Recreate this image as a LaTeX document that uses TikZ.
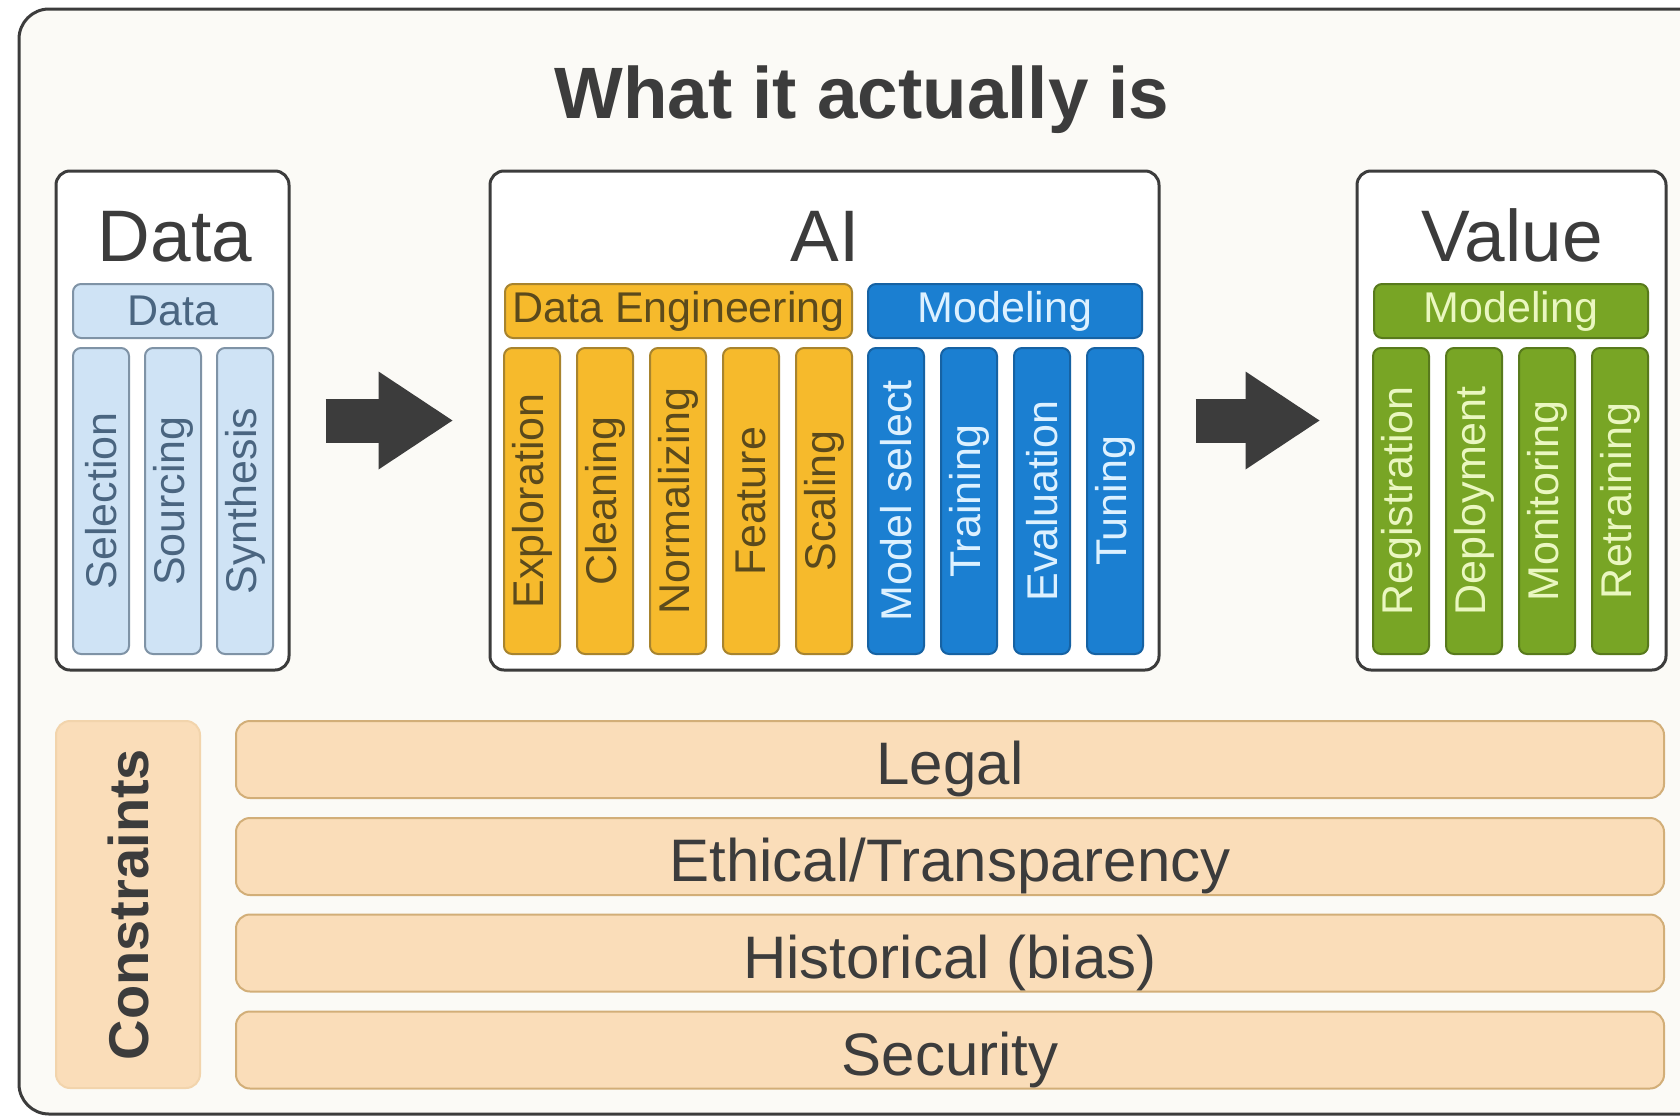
\documentclass[tikz,border=0pt]{standalone}
\usepackage{fontspec}
\setmainfont{Liberation Sans}
\usetikzlibrary{arrows.meta}

\definecolor{framebg}{HTML}{FBFAF6}
\definecolor{inkgray}{HTML}{3C3C3C}
\definecolor{skyfill}{HTML}{CFE3F5}
\definecolor{skyedge}{HTML}{7F93A6}
\definecolor{skyink}{HTML}{4A6580}
\definecolor{ambfill}{HTML}{F6BA2C}
\definecolor{ambedge}{HTML}{A8842E}
\definecolor{ambink}{HTML}{5B4A1C}
\definecolor{seafill}{HTML}{1B7FD1}
\definecolor{seaedge}{HTML}{1662A3}
\definecolor{seaink}{HTML}{DDF1FF}
\definecolor{leaffill}{HTML}{78A525}
\definecolor{leafedge}{HTML}{587A1C}
\definecolor{leafink}{HTML}{EAF7C0}
\definecolor{peachfill}{HTML}{FADDB9}
\definecolor{peachedge}{HTML}{D2AE78}

\tikzset{
  panel/.style={draw=inkgray, line width=1.5pt, fill=white, rounded corners=7pt,
    inner sep=0pt, minimum width=#1, minimum height=249.5pt},
  paneltitle/.style={anchor=base, text=inkgray, font=\fontsize{36.5}{40}\selectfont},
  header/.style={line width=1pt, rounded corners=4pt, inner sep=0pt,
    minimum width=#1, minimum height=27pt, font=\fontsize{21.5}{24}\selectfont},
  column/.style={line width=1pt, rounded corners=4pt, inner sep=0pt, rotate=90,
    minimum width=153pt, minimum height=28pt, font=\fontsize{21.5}{24}\selectfont},
  sky/.style={fill=skyfill, draw=skyedge, text=skyink},
  amber/.style={fill=ambfill, draw=ambedge, text=ambink},
  sea/.style={fill=seafill, draw=seaedge, text=seaink},
  leaf/.style={fill=leaffill, draw=leafedge, text=leafink},
  limit/.style={fill=peachfill, draw=peachedge, line width=1pt, rounded corners=7pt,
    inner sep=0pt, minimum width=714pt, minimum height=38.5pt, text=inkgray,
    text height=25pt, text depth=0pt, font=\fontsize{30}{34}\selectfont},
  bigarrow/.style={draw=inkgray, line width=22pt,
    -{Triangle[length=37pt, width=49pt, line width=0pt]},
    shorten <=17.5pt, shorten >=18pt}
}

\begin{document}
\begin{tikzpicture}[x=0.5pt, y=-0.5pt]
  \useasboundingbox (0,0) rectangle (1680,1119);
  \fill[white] (0,0) rectangle (1680,1119);
  \draw[inkgray, line width=1.5pt, fill=framebg, rounded corners=15pt]
    (19,9) rectangle (1720,1114);

  \node[anchor=base, text=inkgray, font=\fontsize{36.4}{40}\selectfont\bfseries]
    (title) at (862,118) {What it actually is};

  % three stages
  \node[panel=116.5pt] (data) at (172.5,420.5) {};
  \node[panel=334.5pt] (ai) at (824.5,420.5) {};
  \node[panel=154.5pt] (value) at (1511.5,420.5) {};

  \node[paneltitle] (datatitle) at (175,261) {Data};
  \node[paneltitle] (aititle) at (825,261) {AI};
  \node[paneltitle] (valuetitle) at (1512,261) {Value};

  \node[header=100pt, sky] (datahead) at (173,311) {Data};
  \node[column, sky] (selection) at (101,501) {Selection};
  \node[column, sky] (sourcing) at (173,501) {Sourcing};
  \node[column, sky] (synthesis) at (245,501) {Synthesis};

  \node[header=173.5pt, amber] (enghead) at (678.5,311) {Data Engineering};
  \node[column, amber] (exploration) at (532,501) {Exploration};
  \node[column, amber] (cleaning) at (605,501) {Cleaning};
  \node[column, amber] (normalizing) at (678,501) {Normalizing};
  \node[column, amber] (feature) at (751,501) {Feature};
  \node[column, amber] (scaling) at (824,501) {Scaling};

  \node[header=137pt, sea] (modhead) at (1005,311) {Modeling};
  \node[column, sea] (modelselect) at (896,501) {Model select};
  \node[column, sea] (training) at (969,501) {Training};
  \node[column, sea] (evaluation) at (1042,501) {Evaluation};
  \node[column, sea] (tuning) at (1115,501) {Tuning};

  \node[header=137pt, leaf] (opshead) at (1511,311) {Modeling};
  \node[column, leaf] (registration) at (1401,501) {Registration};
  \node[column, leaf] (deployment) at (1474,501) {Deployment};
  \node[column, leaf] (monitoring) at (1547,501) {Monitoring};
  \node[column, leaf] (retraining) at (1620,501) {Retraining};

  \draw[bigarrow] (data.east) -- (ai.west);
  \draw[bigarrow] (ai.east) -- (value.west);

  % constraints
  \node[limit, rotate=90, minimum width=183.5pt, minimum height=72pt,
    text height=, text depth=,
    font=\fontsize{28}{32}\selectfont\bfseries, draw=peachfill!80!peachedge]
    (constraints) at (128,904.5) {Constraints};
  \node[limit] (legal) at (950,759.5) {Legal};
  \node[limit] (ethical) at (950,856.5) {Ethical/Transparency};
  \node[limit] (historical) at (950,953) {Historical (bias)};
  \node[limit] (security) at (950,1050) {Security};
\end{tikzpicture}
\end{document}
